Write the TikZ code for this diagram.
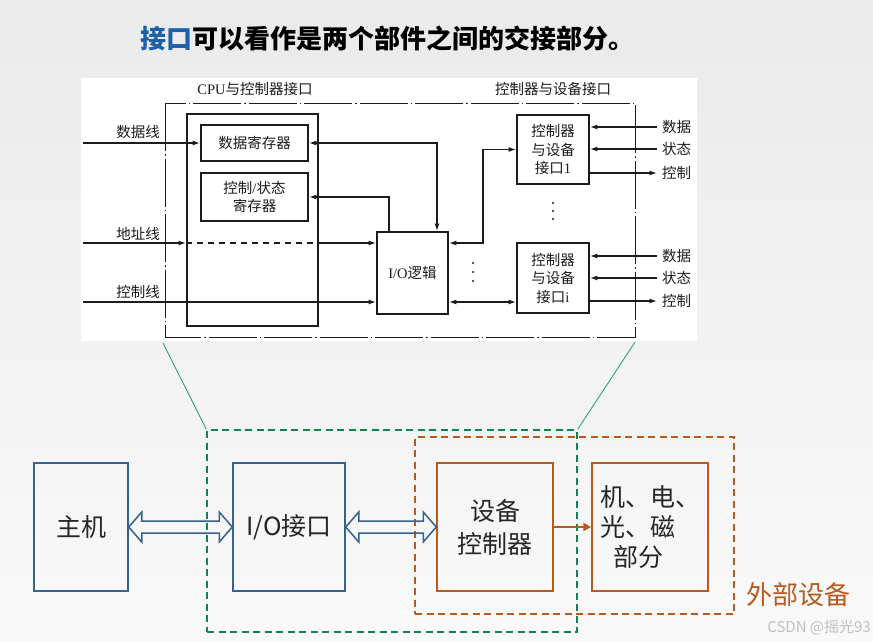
\documentclass[tikz,border=0pt]{standalone}
\usepackage{fontspec}
\setmainfont{Noto Sans CJK SC}
\newfontfamily\lat{Liberation Serif}
\usetikzlibrary{arrows.meta,calc}
\definecolor{bxblue}{RGB}{54,98,145}
\definecolor{bxorange}{RGB}{184,90,30}
\definecolor{dgreen}{RGB}{20,130,80}
\definecolor{lgreen}{RGB}{60,170,130}
\definecolor{ttblue}{RGB}{30,95,170}
\definecolor{ink}{RGB}{28,28,28}
\definecolor{bgtop}{RGB}{234,234,234}
\definecolor{bgbot}{RGB}{249,249,249}
\begin{document}
\begin{tikzpicture}[x=1pt,y=-1pt,
  wire/.style={draw=ink, line width=1.3pt},
  onetip/.style={-{Latex[length=7.5pt,width=5pt]}},
  twotip/.style={{Latex[length=7.5pt,width=5pt]}-{Latex[length=7.5pt,width=5pt]}},
  reg/.style={draw=ink, line width=1.8pt, inner sep=0pt, font=\fontsize{14.5}{18.5}\selectfont, text=ink, align=center},
  smalltext/.style={font=\fontsize{14.5}{17}\selectfont, text=ink, inner sep=0pt},
  bluebox/.style={draw=bxblue, line width=1.5pt, minimum height=128pt, inner sep=0pt, font=\fontsize{25}{31}\selectfont, text=black!85},
  orangebox/.style={draw=bxorange, line width=1.5pt, minimum height=128pt, inner sep=0pt, font=\fontsize{25}{31}\selectfont, text=black!85, align=center},
  hollow/.style={draw=bxblue, line width=1.5pt, line join=miter},
  gdash/.style={draw=dgreen, line width=1.4pt, dash pattern=on 7pt off 4.5pt},
  odash/.style={draw=bxorange, line width=1.4pt, dash pattern=on 7pt off 4.5pt}
]
\useasboundingbox (0,0) rectangle (873,642);
\shade[top color=bgtop, bottom color=bgbot] (0,0) rectangle (873,642);

% title
\node[anchor=west, inner sep=0pt, font=\bfseries\fontsize{26}{30}\selectfont] (title) at (140,38)
  {\textcolor{ttblue}{接口}可以看作是两个部件之间的交接部分。};

% top panel
\fill[white] (81,78) rectangle (697,341);
\draw[ink, line width=1pt, dash pattern=on 48pt off 3pt on 1.5pt off 3pt] (165,103) rectangle (635,337);
\node[smalltext] (lbl1) at (255,89) {{\lat CPU}与控制器接口};
\node[smalltext] (lbl2) at (553,89) {控制器与设备接口};

\node[draw=ink, line width=1.9pt, minimum width=131pt, minimum height=212pt, inner sep=0pt] (cpu) at (252.5,220) {};
\node[reg, minimum width=107pt, minimum height=36pt] (dreg) at (254.5,143) {数据寄存器};
\node[reg, minimum width=107pt, minimum height=48pt] (sreg) at (254.5,197) {控制{\lat /}状态\\寄存器};
\node[reg, minimum width=71pt, minimum height=82pt] (iol) at (412.5,273) {{\lat I/O}逻辑};
\node[reg, minimum width=72pt, minimum height=69pt] (if1) at (553,149.5) {控制器\\与设备\\接口{\lat 1}};
\node[reg, minimum width=72pt, minimum height=70pt] (ifi) at (553,278) {控制器\\与设备\\接口{\lat i}};

\coordinate (d0) at (83,143);
\coordinate (a0) at (83,243);
\coordinate (c0) at (83,302);
\node[smalltext] (ld) at (138,132) {数据线};
\node[smalltext] (la) at (138,234) {地址线};
\node[smalltext] (lc) at (138,292) {控制线};

\draw[wire, onetip] (d0) -- (dreg.west);
\draw[wire, onetip] (a0) -- (a0 -| cpu.west);
\draw[wire, dash pattern=on 6pt off 5pt] (a0 -| cpu.west) -- (a0 -| cpu.east);
\draw[wire, onetip] (a0 -| cpu.east) -- (a0 -| iol.west);
\draw[wire, onetip] (c0) -- (c0 -| iol.west);

\coordinate (x1) at (437,0);
\coordinate (x2) at (389,0);
\coordinate (x3) at (483,0);
\draw[wire, twotip] (dreg.east) -| (x1 |- iol.north);
\draw[wire, onetip] (x2 |- iol.north) |- (sreg.east);
\draw[wire, twotip] (iol.east |- a0) -- (x3 |- a0) |- (if1.west);
\draw[wire, twotip] (iol.east |- c0) -- (ifi.west |- c0);

% right side signals
\node[smalltext, anchor=west, inner xsep=5pt] (r1d) at (657,127) {数据};
\node[smalltext, anchor=west, inner xsep=5pt] (r1s) at (657,149) {状态};
\node[smalltext, anchor=west, inner xsep=5pt] (r1c) at (657,173) {控制};
\node[smalltext, anchor=west, inner xsep=5pt] (r2d) at (657,256) {数据};
\node[smalltext, anchor=west, inner xsep=5pt] (r2s) at (657,278) {状态};
\node[smalltext, anchor=west, inner xsep=5pt] (r2c) at (657,301) {控制};
\draw[wire, onetip] (r1d.west) -- (r1d.west -| if1.east);
\draw[wire, onetip] (r1s.west) -- (r1s.west -| if1.east);
\draw[wire, onetip] (r1c.west -| if1.east) -- (r1c.west);
\draw[wire, onetip] (r2d.west) -- (r2d.west -| ifi.east);
\draw[wire, onetip] (r2s.west) -- (r2s.west -| ifi.east);
\draw[wire, onetip] (r2c.west -| ifi.east) -- (r2c.west);

% dots
\foreach \yy in {263,272,281} \fill[ink] (473,\yy) circle (1.2pt);
\foreach \yy in {203,211,219} \fill[ink] (553,\yy) circle (1.2pt);

% bottom part
\node[gdash, minimum width=370pt, minimum height=202pt, inner sep=0pt] (gbox) at (392,531) {};
\node[odash, minimum width=319pt, minimum height=177pt, inner sep=0pt] (obox) at (574.5,525.5) {};
\coordinate (pl) at (163,343);
\coordinate (pr) at (635,342);
\draw[lgreen, line width=1pt] (pl) -- (gbox.north west);
\draw[lgreen, line width=1pt] (pr) -- (gbox.north east);

\node[bluebox, minimum width=94pt] (zj) at (81,527) {主机};
\node[bluebox, minimum width=112pt] (io) at (289,527) {I/O接口};
\node[orangebox, minimum width=116pt, font=\fontsize{25}{33}\selectfont] (ctrl) at (495,527) {设备\\控制器};
\node[orangebox, minimum width=116pt, align=left, font=\fontsize{25}{30}\selectfont] (dev) at (650,527) {机、电、\\光、磁\\\hspace{13pt}部分};

\draw[hollow] (zj.east) -- ($(zj.east)+(13,-15)$) -- ($(zj.east)+(13,-6)$) -- ($(io.west)+(-13,-6)$) -- ($(io.west)+(-13,-15)$) -- (io.west) -- ($(io.west)+(-13,15)$) -- ($(io.west)+(-13,6)$) -- ($(zj.east)+(13,6)$) -- ($(zj.east)+(13,15)$) -- cycle;
\draw[hollow] (io.east) -- ($(io.east)+(13,-15)$) -- ($(io.east)+(13,-6)$) -- ($(ctrl.west)+(-13,-6)$) -- ($(ctrl.west)+(-13,-15)$) -- (ctrl.west) -- ($(ctrl.west)+(-13,15)$) -- ($(ctrl.west)+(-13,6)$) -- ($(io.east)+(13,6)$) -- ($(io.east)+(13,15)$) -- cycle;
\draw[bxorange, line width=2pt, -{Triangle[length=8pt,width=8pt]}] (ctrl.east) -- (dev.west);

\node[font=\fontsize{26}{30}\selectfont, text=bxorange, inner sep=0pt] (ext) at (798,595) {外部设备};
\node[font=\fontsize{15}{15}\selectfont, text=black!25, anchor=east, inner sep=0pt] (wm) at (871,627) {CSDN @摇光93};
\end{tikzpicture}
\end{document}
